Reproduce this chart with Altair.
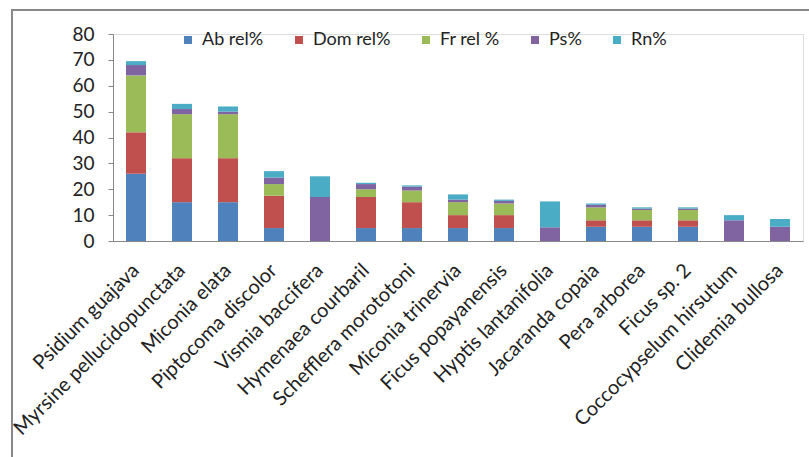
import altair as alt
import pandas as pd

species = ["Psidium guajava", "Myrsine pellucidopunctata", "Miconia elata",
           "Piptocoma discolor", "Vismia baccifera", "Hymenaea courbaril",
           "Schefflera morototoni", "Miconia trinervia", "Ficus popayanensis",
           "Hyptis lantanifolia", "Jacaranda copaia", "Pera arborea",
           "Ficus sp. 2", "Coccocypselum hirsutum", "Clidemia bullosa"]
series = ["Ab rel%", "Dom rel%", "Fr rel %", "Ps%", "Rn%"]
ab_rel = [26, 15, 15, 5, 0, 5, 5, 5, 5, 0, 5.5, 5.5, 5.5, 0, 0]
dom_rel = [16, 17, 17, 12.5, 0, 12, 10, 5, 5, 0, 2.5, 2.5, 2.5, 0, 0]
fr_rel = [22, 17, 17, 4.5, 0, 3, 4.5, 5, 4.5, 0, 5, 4, 4, 0, 0]
ps = [4, 2, 1, 2.5, 17, 2, 1.5, 1, 1, 5.3, 1, 0.5, 0.5, 8, 5.5]
rn = [1.5, 2, 2, 2.5, 8, 0.5, 0.5, 2, 0.5, 10, 0.5, 0.5, 0.5, 2, 3]
colors = ["#4F81BD", "#C0504D", "#9BBB59", "#8064A2", "#4BACC6"]

rows = []
for i, sp in enumerate(species):
    for k, (name, vals) in enumerate(zip(series, [ab_rel, dom_rel, fr_rel, ps, rn])):
        rows.append({"species": sp, "series": name, "value": vals[i], "ord": k})
df = pd.DataFrame(rows)

font = "Lato"
bars = alt.Chart(df).mark_bar(size=20).encode(
    x=alt.X("species:N", sort=species, title=None,
            axis=alt.Axis(labelAngle=-45, labelAlign="right", labelBaseline="middle",
                          labelFontSize=20, labelColor="#222", labelFont=font,
                          ticks=False, domainColor="#888", labelPadding=26,
                          labelOverlap=False, labelLimit=400)),
    y=alt.Y("value:Q", stack="zero", title=None,
            scale=alt.Scale(domain=[0, 80], nice=False),
            axis=alt.Axis(values=list(range(0, 81, 10)), grid=False,
                          labelFontSize=19, labelColor="#222", labelFont=font,
                          tickColor="#888", domainColor="#888", tickSize=5,
                          labelPadding=14)),
    color=alt.Color("series:N", sort=series,
                    scale=alt.Scale(domain=series, range=colors),
                    legend=alt.Legend(title=None, orient="none", legendX=66, legendY=-3,
                                      direction="horizontal", columns=5,
                                      symbolType="square", symbolSize=64,
                                      labelFontSize=18, labelFont=font,
                                      labelColor="#222", columnPadding=26,
                                      labelOffset=5, symbolStrokeWidth=0)),
    order=alt.Order("ord:Q", sort="ascending"),
)

frame = alt.Chart(pd.DataFrame({"f": [0]})).mark_rect(
    fill=None, stroke="#888", strokeWidth=2
).encode(
    x=alt.value(-101), x2=alt.value(720), y=alt.value(-24), y2=alt.value(440)
)

chart = alt.layer(frame, bars).properties(
    width=690, height=207,
    autosize=alt.AutoSizeParams(type="none"),
    padding={"left": 113, "top": 34, "right": 6, "bottom": 216},
).configure_view(stroke=None).configure(background="white")

chart.save("out.html", embed_options={"renderer": "svg", "actions": False})
